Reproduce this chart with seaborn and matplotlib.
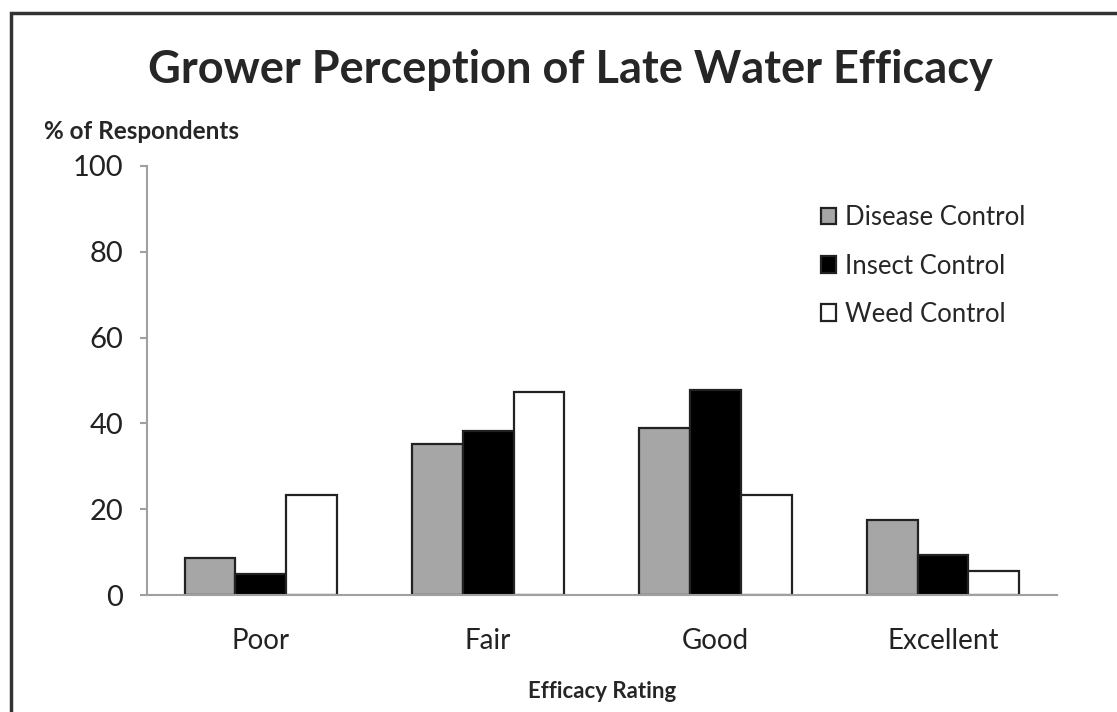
import numpy as np
import pandas as pd
import matplotlib.pyplot as plt
import seaborn as sns
from matplotlib.patches import Rectangle

# Daten
ratings = ["Poor", "Fair", "Good", "Excellent"]
series = ["Disease Control", "Insect Control", "Weed Control"]
disease = [8.6, 35.1, 39.0, 17.4]
insect = [4.9, 38.2, 47.9, 9.3]
weed = [23.3, 47.3, 23.3, 5.7]
colors = ["#a6a6a6", "#000000", "#ffffff"]

df = pd.DataFrame({
    "Rating": ratings * 3,
    "Serie": np.repeat(series, len(ratings)),
    "Wert": disease + insect + weed,
})

sns.set_style("white")
plt.rcParams["font.family"] = ["Lato", "DejaVu Sans"]

fig = plt.figure(figsize=(11.17, 7.12), dpi=100)
ax = fig.add_axes([0.1316, 0.1643, 0.8144, 0.6026])

sns.barplot(data=df, x="Rating", y="Wert", hue="Serie", order=ratings,
            hue_order=series, palette=colors, width=0.67,
            edgecolor="#222222", linewidth=1.6, ax=ax)

ax.set_xlim(-0.5, 3.5)
ax.set_ylim(0, 100)
ax.set_yticks([0, 20, 40, 60, 80, 100])
ax.set_xlabel("Efficacy Rating", fontsize=16, fontweight="bold", labelpad=20)
ax.set_ylabel("")

for s in ["top", "right"]:
    ax.spines[s].set_visible(False)
for s in ["left", "bottom"]:
    ax.spines[s].set_color("#a0a0a0")
    ax.spines[s].set_linewidth(1.5)

ax.tick_params(axis="y", left=True, length=5, width=1.5, color="#a0a0a0",
               labelsize=21, pad=12, labelcolor="#222222")
ax.tick_params(axis="x", bottom=False, labelsize=20, pad=20, labelcolor="#222222")

ax.legend(loc="upper left", bbox_to_anchor=(0.715, 0.962), frameon=False,
          fontsize=18.5, handlelength=0.6, handleheight=0.6, handletextpad=0.35,
          labelspacing=0.9)

fig.text(0.511, 0.902, "Grower Perception of Late Water Efficacy",
         ha="center", va="center", fontsize=32.5, fontweight="bold")
fig.text(0.039, 0.816, "% of Respondents", ha="left", va="center",
         fontsize=17.5, fontweight="bold")

# Rahmen wie im Original
fig.patches.append(Rectangle((0.0098, -0.05), 1.2, 1.032, transform=fig.transFigure,
                             fill=False, edgecolor="#333333", linewidth=2.5))

fig.savefig("out.png", dpi=100)
plt.close(fig)
